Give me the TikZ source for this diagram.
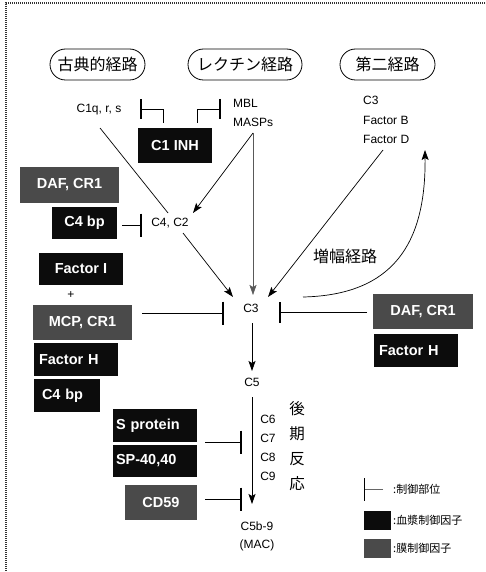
\documentclass[tikz,border=0pt]{standalone}
\usepackage{fontspec}
\setmainfont{Liberation Sans}
\newfontfamily\jp{Noto Sans CJK JP}
\usetikzlibrary{arrows.meta}
\definecolor{blkfill}{RGB}{12,12,12}
\definecolor{grayfill}{RGB}{74,74,74}
\begin{document}
\begin{tikzpicture}[x=1pt,y=-1pt,
  pill/.style={draw, line width=0.8pt, rounded corners=15.5pt, minimum height=31pt, inner sep=0pt, font=\jp\fontsize{16}{18}\selectfont},
  lbl/.style={inner sep=0pt, font=\fontsize{12}{13}\selectfont},
  jplbl/.style={inner sep=0pt, font=\jp\fontsize{16}{18}\selectfont},
  leglbl/.style={inner sep=0pt, anchor=west, font=\jp\fontsize{11}{12}\selectfont},
  blkbox/.style={fill=blkfill, text=white, inner ysep=0pt, inner xsep=0pt, font=\bfseries\fontsize{14.5}{16}\selectfont},
  grybox/.style={blkbox, fill=grayfill},
  conn/.style={line width=0.7pt},
  arr/.style={conn, -{Stealth[length=10pt,width=7pt,inset=2pt]}},
  inh/.style={conn, -{Bar[width=23pt,line width=1.6pt]}},
  frame/.style={line width=1.2pt, dash pattern=on 1pt off 1pt, black!80}
]
\useasboundingbox (0,0) rectangle (485,572);
% frame (cropped: top and left edges)
\draw[frame] (485,3) -- (6,3) -- (6,572);

% pathways
\node[pill, minimum width=95pt] (classic) at (97.5,64.5) {古典的経路};
\node[pill, minimum width=114pt] (lectin) at (245,64.5) {レクチン経路};
\node[pill, minimum width=95pt] (altern) at (387.5,64.5) {第二経路};

% initial components
\node[lbl] (c1q) at (99,110) {C1q, r, s};
\node[lbl, anchor=west] (mbl) at (233,103) {MBL};
\node[lbl, anchor=west] (masps) at (233,122) {MASPs};
\node[lbl, anchor=west] (altc3) at (363,100) {C3};
\node[lbl, anchor=west] (facb) at (363,120) {Factor B};
\node[lbl, anchor=west] (facd) at (363,139) {Factor D};

% C1 INH
\node[blkbox, minimum width=74pt, minimum height=35pt] (c1inh) at (175,145.5) {C1 INH};
\coordinate (inhL) at (163,123);
\coordinate (inhLbar) at (140,109);
\coordinate (inhR) at (197,123);
\coordinate (inhRbar) at (221,109);
\draw[conn, -{Bar[width=20pt,line width=1.6pt]}] (inhL) |- (inhLbar);
\draw[conn, -{Bar[width=20pt,line width=1.6pt]}] (inhR) |- (inhRbar);

% C4, C2
\node[lbl] (c4c2) at (170,223) {C4, C2};
\coordinate (c1qout) at (100,128);
\coordinate (c1qend) at (168,213);
\coordinate (maspsout) at (253,133);
\coordinate (c4c2in) at (193,213);
\coordinate (c4c2out) at (183,233);
\draw[conn] (c1qout) -- (c1qend);
\draw[arr] (maspsout) -- (c4c2in);
\draw[arr, line width=0.5pt, black!65] (maspsout) -- (253,295) coordinate (c3top);

% left regulators (upper)
\node[grybox, minimum width=99pt, minimum height=36pt] (daf1) at (69.5,185) {DAF, CR1};
\node[blkbox, minimum width=65pt, minimum height=32pt] (c4bp1) at (84.5,223) {C4 bp};
\coordinate (c4bp1out) at (122,225);
\coordinate (c4bp1bar) at (142,225);
\draw[inh] (c4bp1out) -- (c4bp1bar);

% C3
\node[lbl] (c3) at (251,308) {C3};
\coordinate (c3inL) at (233,297);
\coordinate (c3inR) at (268,297);
\coordinate (c3loop) at (303,297);
\coordinate (altarrow) at (425,150);
\coordinate (facdout) at (383,150);
\draw[arr] (c4c2out) -- (c3inL);
\draw[arr] (facdout) -- (c3inR);
\draw[arr] (c3loop) .. controls (392,295) and (426,245) .. (altarrow);
\node[jplbl] (amp) at (345,256) {増幅経路};

% left regulators (middle)
\node[blkbox, minimum width=84pt, minimum height=32pt] (faci) at (81,269) {Factor I};
\node[inner sep=0pt, font=\fontsize{12}{12}\selectfont] (plus) at (71,295) {+};
\node[grybox, minimum width=99pt, minimum height=35pt] (mcp) at (82.5,322.5) {MCP, CR1};
\node[blkbox, text width=74pt, inner xsep=5pt, align=left, minimum height=33pt] (fach1) at (76,359.5) {Factor H};
\node[blkbox, text width=50pt, inner xsep=8pt, align=left, minimum height=33pt] (c4bp2) at (67,395.5) {C4 bp};
\coordinate (mcpout) at (142,313);
\coordinate (mcpbar) at (224,313);
\draw[inh] (mcpout) -- (mcpbar);

% right regulators
\node[grybox, minimum width=100pt, minimum height=35pt] (daf2) at (423,311.5) {DAF, CR1};
\node[blkbox, text width=74pt, inner xsep=5pt, align=left, minimum height=33pt] (fach2) at (416,350.5) {Factor H};
\coordinate (daf2out) at (367,312);
\coordinate (daf2bar) at (279,312);
\draw[inh, -{Bar[width=21pt,line width=1.6pt]}] (daf2out) -- (daf2bar);

% C5 and terminal
\coordinate (c3out) at (252,323);
\coordinate (c5in) at (252,371);
\draw[arr] (c3out) -- (c5in);
\node[lbl] (c5) at (252,382) {C5};
\node[lbl] (c6) at (268,419) {C6};
\node[lbl] (c7) at (268,438) {C7};
\node[lbl] (c8) at (268,457) {C8};
\node[lbl] (c9) at (268,476) {C9};
\coordinate (c5out) at (252,397);
\coordinate (macin) at (252,504);
\draw[arr] (c5out) -- (macin);
\node[lbl] (c5b9) at (257,526) {C5b-9};
\node[lbl] (mac) at (257,545) {(MAC)};
\node[jplbl, font=\jp\fontsize{15.5}{18}\selectfont] (k1) at (297,409) {後};
\node[jplbl, font=\jp\fontsize{15.5}{18}\selectfont] (k2) at (297,434) {期};
\node[jplbl, font=\jp\fontsize{15.5}{18}\selectfont] (k3) at (297,459) {反};
\node[jplbl, font=\jp\fontsize{15.5}{18}\selectfont] (k4) at (297,484) {応};

% lower regulators
\node[blkbox, text width=78pt, inner xsep=3pt, align=left, minimum height=33pt] (sprot) at (155,425.5) {S protein};
\node[blkbox, text width=78pt, inner xsep=3pt, align=left, minimum height=32pt] (sp40) at (155,461) {SP-40,40};
\node[grybox, minimum width=72pt, minimum height=35pt] (cd59) at (161,502.5) {CD59};
\coordinate (spout) at (205,442);
\coordinate (spbar) at (242,442);
\coordinate (cdout) at (205,499);
\coordinate (cdbar) at (242,499);
\draw[inh] (spout) -- (spbar);
\draw[inh] (cdout) -- (cdbar);

% legend
\coordinate (legline) at (383,489);
\coordinate (legbar) at (364,489);
\draw[line width=0.5pt, black!60, -{Bar[width=23pt,line width=1.4pt,black]}] (legline) -- (legbar);
\node[leglbl] (leg1) at (393,489) {:制御部位};
\node[fill=blkfill, minimum width=27pt, minimum height=19pt, inner sep=0pt] (legblk) at (377.5,520.5) {};
\node[leglbl] (leg2) at (393,520) {:血漿制御因子};
\node[fill=grayfill, minimum width=27pt, minimum height=19pt, inner sep=0pt] (leggry) at (377.5,548.5) {};
\node[leglbl] (leg3) at (393,548) {:膜制御因子};
\end{tikzpicture}
\end{document}
